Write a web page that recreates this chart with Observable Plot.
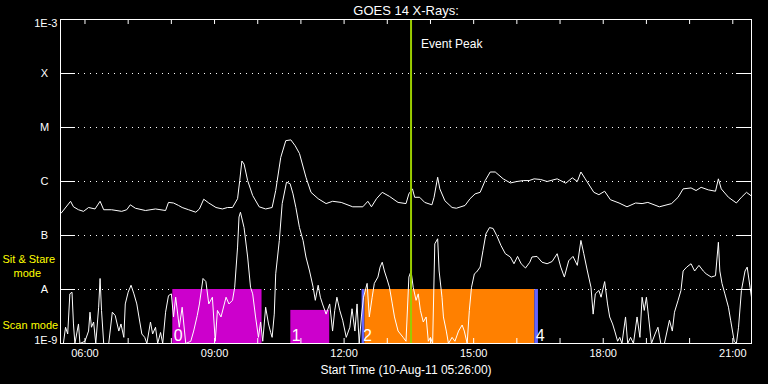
<!DOCTYPE html>
<html><head><meta charset="utf-8">
<script src="https://cdn.jsdelivr.net/npm/d3@7"></script>
<script src="https://cdn.jsdelivr.net/npm/@observablehq/plot@0.6"></script>
<style>html,body{margin:0;padding:0;background:#000;overflow:hidden;}</style>
</head><body><div id="chart"></div>
<script>
const chartTitle = "GOES 14 X-Rays:";
const xLabel = "Start Time (10-Aug-11 05:26:00)";
const startTime = "05:26", endTime = "21:26";
const eventPeak = "13:33";
const eventLabel = "Event Peak";

// Long channel (upper curve)
const longTimes = ["05:27","05:40","05:44","05:51","05:58","06:05","06:14","06:21","06:26","06:37","06:51","06:58","07:03","07:10","07:24","07:38","07:52","07:56","08:03","08:10","08:15","08:24","08:34","08:39","08:45","08:52","09:02","09:11","09:18","09:25","09:32","09:35","09:38","09:41","09:46","09:53","10:02","10:11","10:20","10:25","10:32","10:39","10:46","10:52","10:58","11:07","11:14","11:24","11:35","11:44","11:56","12:12","12:26","12:33","12:38","12:45","12:53","13:03","13:15","13:26","13:30","13:35","13:38","13:45","13:52","14:02","14:05","14:10","14:13","14:20","14:30","14:36","14:48","14:55","15:02","15:09","15:16","15:23","15:30","15:41","15:51","16:00","16:09","16:17","16:24","16:33","16:42","16:56","17:08","17:17","17:24","17:29","17:35","17:47","17:54","18:02","18:10","18:22","18:33","18:45","18:54","19:02","19:18","19:35","19:44","19:51","20:02","20:09","20:16","20:26","20:36","20:40","20:44","20:54","21:05","21:12","21:19","21:25"];
const longFlux = [2.6e-7,4.3e-7,3.4e-7,3.0e-7,2.8e-7,3.3e-7,3.1e-7,4.3e-7,3.0e-7,3.0e-7,2.8e-7,3.0e-7,3.7e-7,3.2e-7,2.9e-7,3.1e-7,2.9e-7,4.1e-7,4.0e-7,3.6e-7,3.3e-7,3.0e-7,2.7e-7,3.1e-7,4.7e-7,4.0e-7,3.3e-7,3.1e-7,3.3e-7,3.3e-7,4.8e-7,1.04e-6,2.4e-6,2.1e-6,1.04e-6,5.5e-7,3.4e-7,3.1e-7,3.3e-7,6.8e-7,2.8e-6,5.7e-6,5.9e-6,4.6e-6,3.3e-6,1.2e-6,6.3e-7,4.8e-7,3.9e-7,4.3e-7,4.1e-7,3.4e-7,3.4e-7,4.3e-7,3.4e-7,4.8e-7,6.3e-7,5.3e-7,4.1e-7,3.9e-7,5.9e-7,7.3e-7,5.1e-7,5.1e-7,4.1e-7,3.7e-7,5.1e-7,1.2e-6,7.3e-7,4.4e-7,3.3e-7,3.2e-7,3.6e-7,4.8e-7,5.9e-7,6.3e-7,1.04e-6,1.5e-6,1.5e-6,1.12e-6,9.4e-7,1.0e-6,1.04e-6,1.04e-6,1.12e-6,1.09e-6,1.0e-6,1.12e-6,9.3e-7,1.17e-6,1.0e-6,1.5e-6,1.12e-6,6.3e-7,5.7e-7,6.6e-7,4.6e-7,4.0e-7,3.4e-7,4.0e-7,3.9e-7,4.1e-7,3.4e-7,3.9e-7,5.1e-7,7.3e-7,7.6e-7,6.8e-7,7.8e-7,7.0e-7,6.6e-7,1.12e-6,7.3e-7,5.1e-7,4.0e-7,5.1e-7,6.3e-7,5.5e-7];

// Short channel (lower curve)
const shortTimes = ["05:30","05:33","05:36","05:39","05:42","05:44","05:46","05:51","05:53","06:00","06:05","06:07","06:09","06:12","06:15","06:19","06:21","06:23","06:26","06:33","06:38","06:42","06:47","06:50","06:54","06:56","07:00","07:04","07:08","07:12","07:15","07:19","07:23","07:26","07:31","07:34","07:38","07:41","07:45","07:48","07:52","07:56","08:00","08:03","08:06","08:11","08:15","08:20","08:27","08:31","08:36","08:39","08:44","08:48","08:52","08:57","09:01","09:04","09:09","09:16","09:20","09:25","09:28","09:32","09:34","09:36","09:41","09:46","09:50","09:53","09:57","10:01","10:04","10:07","10:11","10:15","10:18","10:20","10:23","10:25","10:30","10:34","10:40","10:45","10:49","10:53","10:58","11:03","11:07","11:12","11:17","11:20","11:24","11:27","11:30","11:35","11:40","11:44","11:47","11:50","11:54","11:58","12:03","12:08","12:11","12:15","12:18","12:21","12:24","12:27","12:32","12:35","12:39","12:42","12:47","12:50","12:53","12:56","13:00","13:03","13:07","13:10","13:15","13:22","13:26","13:30","13:33","13:36","13:40","13:43","13:46","13:50","13:54","13:57","14:00","14:03","14:06","14:10","14:12","14:16","14:18","14:22","14:25","14:30","14:34","14:39","14:44","14:47","14:51","14:54","14:57","15:01","15:04","15:09","15:13","15:17","15:22","15:27","15:32","15:38","15:44","15:51","15:56","16:01","16:06","16:12","16:18","16:21","16:28","16:35","16:42","16:49","16:56","17:01","17:06","17:12","17:18","17:24","17:29","17:33","17:38","17:43","17:46","17:49","17:54","17:57","18:02","18:06","18:09","18:13","18:16","18:20","18:23","18:26","18:31","18:34","18:38","18:42","18:47","18:51","18:54","18:57","19:00","19:03","19:07","19:12","19:16","19:20","19:25","19:32","19:36","19:39","19:44","19:48","19:51","19:56","20:02","20:07","20:13","20:19","20:23","20:30","20:36","20:40","20:42","20:45","20:49","20:54","20:57","21:02","21:05","21:08","21:12","21:17","21:20","21:24","21:26"];
const shortFlux = [1e-9,2.0e-9,1.5e-9,8.3e-9,8.9e-9,2.3e-9,1e-9,2.3e-9,1e-9,1.1e-9,1.7e-9,3.8e-9,2.0e-9,2.5e-9,1e-9,4.7e-9,1.6e-8,4.1e-9,1e-9,1e-9,3.8e-9,3.3e-9,1.7e-9,2.3e-9,1.3e-9,5.4e-9,8.9e-9,1.2e-8,8.3e-9,5.4e-9,3.1e-9,1.5e-9,1.3e-9,1e-9,2.5e-9,1.5e-9,2.0e-9,1e-9,1.6e-9,1e-9,3.8e-9,7.7e-9,8.3e-9,3.1e-9,7.2e-9,2.0e-9,4.7e-9,1e-9,1.1e-9,1.7e-9,3.3e-9,5.4e-9,1.6e-8,1.4e-8,5.4e-9,7.2e-9,1.1e-9,4.1e-9,3.1e-9,7.2e-9,5.4e-9,6.3e-9,1.1e-8,6.1e-8,2.2e-7,2.7e-7,1.4e-7,4.0e-8,1.1e-8,8.3e-9,3.1e-9,1.3e-9,2.5e-9,1.1e-9,4.7e-9,2.3e-9,1.6e-9,1.3e-9,3.5e-9,1.95e-8,8.1e-8,3.9e-7,9.7e-7,9.1e-7,5.9e-7,3.3e-7,1.4e-7,8.1e-8,4.0e-8,2.2e-8,1.1e-8,6.3e-9,1.2e-8,7.2e-9,5.4e-9,3.5e-9,5.4e-9,1.7e-9,4.1e-9,7.2e-9,4.1e-9,2.7e-9,1.3e-9,2.0e-9,4.4e-9,1.7e-9,5.4e-9,1e-9,3.1e-9,7.2e-9,1.3e-8,3.1e-9,7.2e-9,1.3e-8,1.7e-8,2.6e-8,3.2e-8,2.2e-8,1.5e-8,1.1e-8,5.4e-9,3.1e-9,1.7e-9,1.3e-9,1.1e-9,1.7e-8,2.2e-8,1.1e-8,6.3e-9,8.3e-9,4.1e-9,2.5e-9,3.1e-9,1.1e-9,1.3e-9,1e-9,7.0e-8,8.7e-8,2.2e-8,7.2e-9,3.1e-9,1.7e-9,1e-9,1.3e-9,1.1e-9,1.7e-9,2.2e-9,1.7e-9,1e-9,4.1e-9,1.1e-8,1.95e-8,2.1e-8,2.6e-8,5.3e-8,1.07e-7,1.4e-7,1.35e-7,1.0e-7,6.5e-8,4.6e-8,4.0e-8,3.0e-8,4.1e-8,3.0e-8,2.5e-8,3.2e-8,4.0e-8,4.1e-8,3.2e-8,3.0e-8,3.3e-8,4.6e-8,2.6e-8,1.7e-8,3.4e-8,4.1e-8,2.8e-8,8.1e-8,4.6e-8,2.2e-8,1.1e-8,3.5e-9,8.3e-9,9.6e-9,7.2e-9,1.4e-8,5.4e-9,3.1e-9,2.3e-9,1.7e-9,1.1e-9,1.3e-9,1e-9,3.1e-9,1e-9,1.3e-9,1e-9,3.1e-9,1.3e-9,7.2e-9,4.1e-9,7.2e-9,3.1e-9,1e-9,1.5e-9,2.0e-9,1e-9,1e-9,2.7e-9,1.7e-9,3.8e-9,6.3e-9,9.6e-9,2.2e-8,2.6e-8,3.0e-8,2.2e-8,2.8e-8,2.2e-8,1.95e-8,1.7e-8,1.8e-8,7.5e-8,2.2e-8,1.3e-8,8.3e-9,4.7e-9,2.7e-9,1.1e-9,1e-9,2.0e-9,9.6e-9,2.2e-8,2.6e-8,1.1e-8,7.2e-9];

// Observation bars (label shown for bars 0, 1, 2, 4)
const barLabels = ["0","1","2","","4"];
const barStart  = ["08:02","10:46","12:25","12:29","16:25"];
const barEnd    = ["10:06","11:40","12:29","16:25","16:30"];
const barTop    = [1e-8, 4.1e-9, 1e-8, 1e-8, 1e-8];
const barColors = ["#cc00cc","#cc00cc","#6464ff","#ff8000","#6464ff"];

// Axis labels
const yTickValues = [1e-3,1e-4,1e-5,1e-6,1e-7,1e-8,1e-9];
const yTickText   = ["1E-3","X","M","C","B","A","1E-9"];
const hourTicks = ["06:00","07:00","08:00","09:00","10:00","11:00","12:00","13:00","14:00","15:00","16:00","17:00","18:00","19:00","20:00","21:00"];
const hourLabels = ["06:00","09:00","12:00","15:00","18:00","21:00"];

const t = s => new Date(`2011-08-10T${s}:00Z`);
const longData = longTimes.map((s,i)=>({time:t(s), flux:longFlux[i]}));
const shortData = shortTimes.map((s,i)=>({time:t(s), flux:shortFlux[i]}));
const bars = barLabels.map((l,i)=>({label:l, x1:t(barStart[i]), x2:t(barEnd[i]), bottom:1e-9, top:barTop[i], color:barColors[i]}));
const labelledBars = bars.filter(b => b.label !== "");
const yTicks = yTickValues.map((v,i)=>({v, text:yTickText[i]}));
const inner = yTicks.slice(1,6);

const W = 768, H = 384, mL = 60, mR = 17, mT = 19, mB = 41;
const frameW = W - mL - mR;

const chart = Plot.plot({
  width: W, height: H, marginLeft: mL, marginRight: mR, marginTop: mT, marginBottom: mB,
  style: {background:"black", color:"white", fontFamily:"'Liberation Sans', Arial, sans-serif", fontSize:"11px"},
  x: {type:"utc", domain:[t(startTime), t(endTime)], axis:null},
  y: {type:"log", domain:[1e-9, 1e-3], axis:null},
  marks: [
    Plot.ruleY(inner, {y:"v", stroke:"white", strokeDasharray:"1,5"}),
    Plot.rect(bars, {x1:"x1", x2:"x2", y1:"bottom", y2:"top", fill:"color"}),
    Plot.text(labelledBars, {x:"x1", y:"bottom", text:"label", dx:1, dy:-3, textAnchor:"start", lineAnchor:"bottom", fontSize:16, fill:"white"}),
    Plot.line(shortData, {x:"time", y:"flux", stroke:"white", strokeWidth:1}),
    Plot.line(longData, {x:"time", y:"flux", stroke:"white", strokeWidth:1}),
    Plot.ruleX([t(eventPeak)], {stroke:"#9acd00", strokeWidth:2}),
    Plot.text([eventLabel], {x:()=>t(eventPeak), frameAnchor:"top", dy:28, dx:10, textAnchor:"start", lineAnchor:"bottom", fontSize:12, fill:"white", text:d=>d}),
    Plot.frame({stroke:"white"}),
    Plot.tickY(inner, {y:"v", stroke:"white", insetRight: frameW - 15}),
    Plot.tickY(inner, {y:"v", stroke:"white", insetLeft: frameW - 15}),
    Plot.tickX(hourTicks, {x:d=>t(d), stroke:"white", insetBottom: H - mT - mB - 5}),
    Plot.tickX(hourTicks, {x:d=>t(d), stroke:"white", insetTop: H - mT - mB - 5}),
    Plot.axisX(hourLabels.map(t), {tickSize:0, tickPadding:6, tickFormat:d3.utcFormat("%H:%M"), fill:"white", fontSize:11}),
    Plot.text([yTicks[0]], {y:"v", text:"text", frameAnchor:"left", dx:-3, textAnchor:"end", lineAnchor:"top", fill:"white", fontSize:11}),
    Plot.text([yTicks[6]], {y:"v", text:"text", frameAnchor:"left", dx:-3, textAnchor:"end", lineAnchor:"bottom", fill:"white", fontSize:11}),
    Plot.text(inner, {y:"v", text:"text", frameAnchor:"left", dx:-16, textAnchor:"middle", lineAnchor:"middle", fill:"white", fontSize:11}),
    Plot.text([chartTitle], {text:d=>d, frameAnchor:"top", dy:-5, lineAnchor:"bottom", fontSize:13, fill:"white"}),
    Plot.text([xLabel], {text:d=>d, frameAnchor:"bottom", dy:30, lineAnchor:"bottom", fontSize:12, fill:"white"}),
    Plot.text(["Sit & Stare"], {text:d=>d, frameAnchor:"top-left", dx:-58, dy:243, textAnchor:"start", lineAnchor:"bottom", fontSize:11, fill:"#ffff00"}),
    Plot.text(["mode"], {text:d=>d, frameAnchor:"top-left", dx:-47, dy:257, textAnchor:"start", lineAnchor:"bottom", fontSize:11, fill:"#ffff00"}),
    Plot.text(["Scan mode"], {text:d=>d, frameAnchor:"top-left", dx:-58, dy:309, textAnchor:"start", lineAnchor:"bottom", fontSize:11, fill:"#ffff00"})
  ]
});
document.getElementById("chart").appendChild(chart);
</script>
</body></html>
